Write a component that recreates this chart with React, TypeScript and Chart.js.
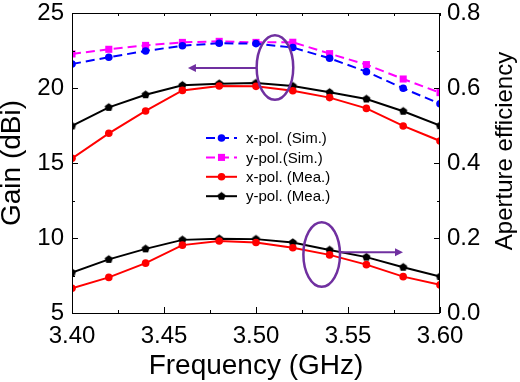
import React, { useEffect, useRef } from 'react';
import { Chart, registerables } from 'chart.js';

Chart.register(...registerables);

// ---------- data ----------
const frequency = [3.4, 3.42, 3.44, 3.46, 3.48, 3.5, 3.52, 3.54, 3.56, 3.58, 3.6];
const gainXSim = [21.6, 22.05, 22.47, 22.82, 22.98, 22.96, 22.7, 21.98, 21.09, 19.98, 18.95];
const gainYSim = [22.27, 22.58, 22.84, 23.04, 23.11, 23.04, 23.05, 22.29, 21.56, 20.6, 19.69];
const gainXMea = [15.31, 16.98, 18.47, 19.84, 20.13, 20.11, 19.82, 19.36, 18.64, 17.47, 16.47];
const gainYMea = [17.47, 18.71, 19.55, 20.18, 20.29, 20.33, 20.13, 19.71, 19.27, 18.45, 17.49];
const effXMea = [0.066, 0.095, 0.133, 0.181, 0.192, 0.188, 0.174, 0.155, 0.129, 0.097, 0.075];
const effYMea = [0.108, 0.143, 0.171, 0.195, 0.198, 0.197, 0.188, 0.168, 0.149, 0.122, 0.097];

const legendLabels = ['x-pol. (Sim.)', 'y-pol.(Sim.)', 'x-pol. (Mea.)', 'y-pol. (Mea.)'];
const xTitle = 'Frequency (GHz)';
const yTitle = 'Gain (dBi)';
const y1Title = 'Aperture efficiency';

// annotation ellipses (data coords) with arrow tips
const annotations = [
  { axis: 'y', cx: 3.5103, cy: 21.37, arrowY: 21.33, tipX: 3.463, dir: -1 },
  { axis: 'y1', cx: 3.5357, cy: 0.156, arrowY: 0.162, tipX: 3.5799, dir: 1 },
];

const FONT = '"Liberation Sans", Arial, Helvetica, sans-serif';
const PURPLE = '#7030A0';

function makePentagon(r: number, color: string) {
  const c = document.createElement('canvas');
  const s = Math.ceil(r * 2 + 2);
  c.width = s;
  c.height = s;
  const ctx = c.getContext('2d')!;
  ctx.fillStyle = color;
  ctx.beginPath();
  for (let k = 0; k < 5; k++) {
    const a = -Math.PI / 2 + (k * 2 * Math.PI) / 5;
    ctx.lineTo(s / 2 + r * Math.cos(a), s / 2 + r * Math.sin(a));
  }
  ctx.closePath();
  ctx.fill();
  return c;
}

const toPts = (ys: number[]) => frequency.map((f, i) => ({ x: f, y: ys[i] }));

const decorPlugin = {
  id: 'decor',
  afterDatasetsDraw(chart: any) {
    const ctx = chart.ctx as CanvasRenderingContext2D;
    const { left, right, top, bottom } = chart.chartArea;
    const sx = chart.scales.x;
    const sy = chart.scales.y;
    const sy1 = chart.scales.y1;
    ctx.save();

    // frame
    ctx.strokeStyle = '#000';
    ctx.lineWidth = 1;
    ctx.strokeRect(Math.round(left) + 0.5, Math.round(top) + 0.5, Math.round(right - left) - 1, Math.round(bottom - top));

    // inward ticks
    const tick = (x1: number, y1: number, x2: number, y2: number) => {
      ctx.beginPath();
      ctx.moveTo(x1, y1);
      ctx.lineTo(x2, y2);
      ctx.stroke();
    };
    for (let i = 0; i <= 8; i++) {
      const v = 3.4 + i * 0.025;
      const px = Math.round(sx.getPixelForValue(v)) + 0.5;
      const len = i % 2 === 0 ? 6 : 3;
      tick(px, bottom, px, bottom - len);
      tick(px, top, px, top + 3);
    }
    for (let i = 0; i <= 8; i++) {
      const v = 5 + i * 2.5;
      const py = Math.round(sy.getPixelForValue(v)) + 0.5;
      const len = i % 2 === 0 ? 6 : 3;
      tick(left, py, left + len, py);
    }
    for (let i = 0; i <= 8; i++) {
      const v = i * 0.1;
      const py = Math.round(sy1.getPixelForValue(v)) + 0.5;
      const len = i % 2 === 0 ? 6 : 3;
      tick(right, py, right - len, py);
    }

    // annotations
    ctx.strokeStyle = PURPLE;
    ctx.fillStyle = PURPLE;
    annotations.forEach((a) => {
      const scale = a.axis === 'y' ? sy : sy1;
      const cx = sx.getPixelForValue(a.cx);
      const cy = scale.getPixelForValue(a.cy);
      const rx = 18.3;
      const ry = 32.3;
      ctx.lineWidth = 2.5;
      ctx.beginPath();
      ctx.ellipse(cx, cy, rx, ry, 0, 0, Math.PI * 2);
      ctx.stroke();
      const ay = scale.getPixelForValue(a.arrowY);
      const start = cx + a.dir * rx;
      const tip = sx.getPixelForValue(a.tipX);
      ctx.lineWidth = 2;
      ctx.beginPath();
      ctx.moveTo(start, ay);
      ctx.lineTo(tip - a.dir * 6, ay);
      ctx.stroke();
      ctx.beginPath();
      ctx.moveTo(tip, ay);
      ctx.lineTo(tip - a.dir * 8, ay - 4);
      ctx.lineTo(tip - a.dir * 8, ay + 4);
      ctx.closePath();
      ctx.fill();
    });

    // legend
    const ds = chart.data.datasets;
    const lx0 = 206;
    const lx1 = 237;
    const ly0 = 138;
    const lstep = 19.4;
    ctx.font = `15px ${FONT}`;
    ctx.textBaseline = 'middle';
    ctx.textAlign = 'left';
    for (let i = 0; i < 4; i++) {
      const d = ds[i];
      const y = ly0 + i * lstep;
      ctx.strokeStyle = d.borderColor;
      ctx.lineWidth = d.borderWidth;
      ctx.setLineDash(d.borderDash || []);
      ctx.beginPath();
      ctx.moveTo(lx0, y);
      ctx.lineTo(lx1, y);
      ctx.stroke();
      ctx.setLineDash([]);
      const mx = (lx0 + lx1) / 2;
      ctx.fillStyle = d.pointBackgroundColor;
      const ps = d.pointStyle;
      if (ps === 'circle') {
        ctx.beginPath();
        ctx.arc(mx, y, d.pointRadius, 0, Math.PI * 2);
        ctx.fill();
      } else if (ps === 'rect') {
        const h = d.pointRadius * Math.SQRT1_2;
        ctx.fillRect(mx - h, y - h, 2 * h, 2 * h);
      } else if (ps instanceof HTMLCanvasElement) {
        ctx.drawImage(ps, mx - ps.width / 2, y - ps.height / 2);
      }
      ctx.fillStyle = '#000';
      ctx.fillText(legendLabels[i], 246, y + 1);
    }

    // right axis title (reads bottom to top)
    ctx.save();
    ctx.translate(505, 151);
    ctx.rotate(-Math.PI / 2);
    ctx.font = `24px ${FONT}`;
    ctx.textAlign = 'center';
    ctx.textBaseline = 'middle';
    ctx.fillStyle = '#000';
    ctx.fillText(y1Title, 0, 0);
    ctx.restore();

    ctx.restore();
  },
};

export default function App() {
  const ref = useRef<HTMLCanvasElement | null>(null);

  useEffect(() => {
    const canvas = ref.current;
    if (!canvas) return;
    const pentagon = makePentagon(4.3, '#000000');
    const pentagonLeg = makePentagon(4.3, '#000000');
    const tickFont = { family: FONT, size: 24, lineHeight: 1 };
    const chart = new Chart(canvas, {
      type: 'line',
      data: {
        datasets: [
          {
            label: legendLabels[0], data: toPts(gainXSim), yAxisID: 'y',
            borderColor: '#0000FF', backgroundColor: '#0000FF', pointBackgroundColor: '#0000FF',
            borderWidth: 2, borderDash: [9, 5], pointStyle: 'circle', pointRadius: 3.8, pointBorderWidth: 0,
          },
          {
            label: legendLabels[1], data: toPts(gainYSim), yAxisID: 'y',
            borderColor: '#FF00FF', backgroundColor: '#FF00FF', pointBackgroundColor: '#FF00FF',
            borderWidth: 2, borderDash: [9, 5], pointStyle: 'rect', pointRadius: 5, pointBorderWidth: 0,
          },
          {
            label: legendLabels[2], data: toPts(gainXMea), yAxisID: 'y',
            borderColor: '#FF0000', backgroundColor: '#FF0000', pointBackgroundColor: '#FF0000',
            borderWidth: 2, pointStyle: 'circle', pointRadius: 3.8, pointBorderWidth: 0,
          },
          {
            label: legendLabels[3], data: toPts(gainYMea), yAxisID: 'y',
            borderColor: '#000000', backgroundColor: '#000000', pointBackgroundColor: '#000000',
            borderWidth: 2, pointStyle: pentagonLeg, pointRadius: 4, pointBorderWidth: 0,
          },
          {
            label: 'x-pol. eff', data: toPts(effXMea), yAxisID: 'y1',
            borderColor: '#FF0000', backgroundColor: '#FF0000', pointBackgroundColor: '#FF0000',
            borderWidth: 2, pointStyle: 'circle', pointRadius: 3.8, pointBorderWidth: 0,
          },
          {
            label: 'y-pol. eff', data: toPts(effYMea), yAxisID: 'y1',
            borderColor: '#000000', backgroundColor: '#000000', pointBackgroundColor: '#000000',
            borderWidth: 2, pointStyle: pentagon, pointRadius: 4, pointBorderWidth: 0,
          },
        ],
      },
      options: {
        animation: false,
        responsive: false,
        devicePixelRatio: 1,
        layout: { padding: { top: 13, left: 0, right: 0, bottom: 0 } },
        elements: { line: { tension: 0 } },
        plugins: { legend: { display: false }, tooltip: { enabled: false } },
        scales: {
          x: {
            type: 'linear', position: 'bottom', min: 3.4, max: 3.6,
            ticks: {
              stepSize: 0.05, autoSkip: false, maxRotation: 0, padding: 11,
              color: '#000', font: tickFont,
              callback: (v: any) => Number(v).toFixed(2),
            },
            grid: { display: false, drawTicks: false },
            border: { display: false },
            title: { display: true, text: xTitle, color: '#000', padding: 0, font: { family: FONT, size: 28, lineHeight: 1.14 } },
            afterFit: (s: any) => { s.height = 69; s.paddingLeft = 0; s.paddingRight = 0; },
          },
          y: {
            type: 'linear', position: 'left', min: 5, max: 25,
            ticks: { stepSize: 5, padding: 8, color: '#000', font: tickFont },
            grid: { display: false, drawTicks: false },
            border: { display: false },
            title: { display: true, text: yTitle, color: '#000', padding: 0, font: { family: FONT, size: 28, lineHeight: 0.9 } },
            afterFit: (s: any) => { s.width = 72; s.paddingTop = 0; s.paddingBottom = 0; },
          },
          y1: {
            type: 'linear', position: 'right', min: 0, max: 0.8,
            ticks: {
              stepSize: 0.2, padding: 7, color: '#000', font: tickFont,
              callback: (v: any) => Number(v).toFixed(1),
            },
            grid: { display: false, drawTicks: false },
            border: { display: false },
            title: { display: false },
            afterFit: (s: any) => { s.width = 80; s.paddingTop = 0; s.paddingBottom = 0; },
          },
        },
      },
      plugins: [decorPlugin],
    } as any);
    return () => chart.destroy();
  }, []);

  return (
    <div style={{ position: 'absolute', left: 0, top: 0, width: 520, height: 382, background: '#fff' }}>
      <canvas ref={ref} width={520} height={382} style={{ width: 520, height: 382, display: 'block' }} />
    </div>
  );
}
